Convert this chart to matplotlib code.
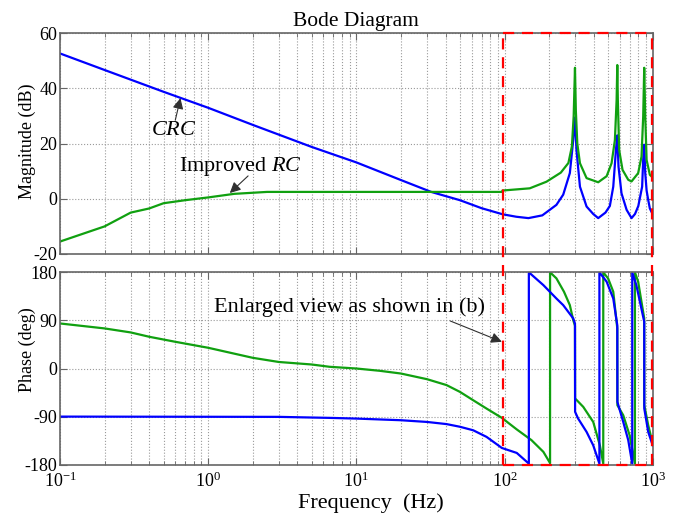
import numpy as np
import matplotlib
matplotlib.use('Agg')
from matplotlib import pyplot as plt
from matplotlib.lines import Line2D
from matplotlib.ticker import LogLocator

plt.rcParams['font.family'] = ['Liberation Serif', 'DejaVu Serif']
plt.rcParams['mathtext.fontset'] = 'custom'
plt.rcParams['mathtext.rm'] = 'Liberation Serif'
plt.rcParams['mathtext.it'] = 'Liberation Serif:italic'
plt.rcParams['axes.unicode_minus'] = False

# magnitude, CRC (blue)
crc_mag_f = [0.1, 0.2, 0.5, 1, 2, 5, 10, 20, 32, 50, 70, 97, 120, 145, 180, 224, 249,
             276, 291, 299, 306, 323, 358, 397, 429, 480, 514, 542, 565, 577, 588,
             616, 667, 720, 760, 800, 849, 863, 877, 891, 910, 933, 957, 1000]
crc_mag = [52.7, 46.7, 38.8, 33.0, 26.8, 18.8, 13.2, 6.8, 2.5, -0.5, -3.4, -5.6, -6.5,
           -7.0, -6.0, -2.2, 1.5, 9.3, 21.3, 29.5, 17.7, 4.4, -2.8, -5.5, -7.0, -5.0,
           -2.6, 4.4, 17.7, 23.0, 11.7, 2.0, -4.0, -7.0, -5.5, -2.6, 4.4, 14.1, 19.6,
           9.3, 3.0, -0.4, -3.5, -5.6]

# magnitude, improved RC (green)
irc_mag_f = [0.1, 0.2, 0.3, 0.4, 0.5, 0.7, 1, 1.5, 2.5, 96, 97, 148, 192, 240, 270,
             285, 293, 299, 303, 310, 323, 358, 429, 489, 528, 556, 571, 577, 582,
             594, 626, 684, 720, 798, 841, 863, 877, 891, 910, 957, 1000]
irc_mag = [-15.5, -10.0, -5.0, -3.5, -1.6, -0.5, 0.5, 1.8, 2.5, 2.5, 3.0, 3.8, 6.2,
           9.5, 13.0, 19.0, 30.0, 47.5, 32.0, 20.0, 12.9, 7.5, 6.0, 8.2, 12.9, 21.3,
           35.8, 48.5, 35.8, 17.7, 10.5, 6.9, 6.3, 9.3, 15.3, 29.8, 47.5, 29.8, 14.1,
           8.7, 7.7]

# phase, CRC (blue)
crc_ph_f = [0.1, 3, 6.6, 10, 20, 30, 40.6, 50, 61.5, 75.7, 96, 121, 146, 146, 183, 224,
            249, 291, 299, 299.5, 314, 358, 397, 437, 437, 489, 542, 577, 578, 633,
            684, 728, 728, 776, 877, 878, 933, 1000]
crc_ph = [-90, -90.5, -92.4, -93.7, -96.8, -100, -104, -109, -115.6, -128, -148.7, -158,
          -178, 180, 156, 131, 118.6, 93.7, 84, -81, -93.7, -118.6, -143.7, -178, 180,
          162.5, 131, 81, -62.5, -100, -134, -178, 180, 156, 87.5, -75, -118.6, -143.7]

# phase, improved RC (green)
irc_ph_f = [0.1, 0.2, 0.3, 0.4, 0.6, 1, 2, 3, 5, 6.6, 10, 14.4, 20, 30, 40.6, 50, 61.5,
            75.7, 96, 121, 152, 183, 203, 203, 224, 252, 276, 291, 299, 299.5, 340,
            397, 440, 464, 464, 500, 542, 577, 578, 633, 699, 759, 759, 798, 877, 878,
            933, 1000]
irc_ph = [84.3, 75, 67.5, 59.4, 50, 38.8, 20, 12.2, 7.5, 3.2, 0, -4.3, -9.4, -20, -31,
          -43.7, -59.4, -75, -92.4, -114, -134, -156, -177, 180, 168.7, 143.7, 118.6,
          90.5, 80, -56, -71.8, -100, -143.7, -178, 180, 168.7, 143.7, 75, -68.7, -87.5,
          -125, -178, 180, 162.5, 93.7, -68.7, -106, -140]

blue = '#0000ff'
green = '#10a010'
grid_kw = dict(color='#9a9a9a', linestyle=':', linewidth=0.8)

fig = plt.figure(figsize=(6.84, 5.18), dpi=100)
ax1 = fig.add_axes([0.0877, 0.5097, 0.8665, 0.4260])
ax2 = fig.add_axes([0.0877, 0.1029, 0.8665, 0.3714])

ax1.semilogx(crc_mag_f, crc_mag, color=blue, lw=1.6)
ax1.semilogx(irc_mag_f, irc_mag, color=green, lw=1.6)
ax2.semilogx(irc_ph_f, irc_ph, color=green, lw=1.6)
ax2.semilogx(crc_ph_f, crc_ph, color=blue, lw=1.6)

ax1.set_ylim(-20, 60)
ax1.set_yticks([-20, 0, 20, 40, 60])
ax2.set_ylim(-180, 180)
ax2.set_yticks([-180, -90, 0, 90, 180])

for ax in (ax1, ax2):
    ax.set_xlim(0.1, 1000)
    ax.xaxis.set_major_locator(LogLocator(base=10, numticks=10))
    ax.xaxis.set_minor_locator(LogLocator(base=10, subs=np.arange(2, 10), numticks=20))
    ax.grid(True, which='major', **grid_kw)
    ax.grid(True, which='minor', axis='x', **grid_kw)
    ax.tick_params(which='both', direction='in', top=True, right=True,
                   color='#666666', labelsize=13, pad=2)
    ax.tick_params(which='major', length=5)
    ax.tick_params(which='minor', length=3)
    for s in ax.spines.values():
        s.set_color('#666666')
        s.set_linewidth(1.2)

ax1.tick_params(labelbottom=False)
ax2.tick_params(axis='x', pad=5)
ax1.set_ylabel('Magnitude (dB)', fontsize=13)
ax1.yaxis.set_label_coords(-0.040, 0.512)
ax2.set_ylabel('Phase (deg)', fontsize=13)
ax2.yaxis.set_label_coords(-0.040, 0.597)
ax2.set_xlabel('Frequency  (Hz)', fontsize=16, labelpad=0)
ax2.xaxis.set_label_coords(0.524, -0.15)
ax1.set_title('Bode Diagram', fontsize=15.5, pad=5)

# annotations
arrow_kw = dict(arrowstyle='-|>', color='#303030', lw=0.8, mutation_scale=16,
                shrinkA=0, shrinkB=0)
ax1.text(0.59, 24.6, '$CRC$', fontsize=16, ha='center', va='center')
ax1.annotate('', xy=(0.65, 36.5), xytext=(0.6, 28.5), arrowprops=arrow_kw)
ax1.text(1.64, 11.6, 'Improved $RC$', fontsize=16, ha='center', va='center')
ax1.annotate('', xy=(1.40, 2.1), xytext=(1.86, 8.3), arrowprops=arrow_kw)
ax2.text(9.06, 115.7, 'Enlarged view as shown in (b)', fontsize=16,
         ha='center', va='center')
ax2.annotate('', xy=(96, 50), xytext=(43, 89), arrowprops=arrow_kw)

# red dashed box spanning both axes
inv = fig.transFigure.inverted()
x_left = inv.transform(ax1.transData.transform((97, 0)))[0]
x_right = inv.transform(ax1.transData.transform((1000, 0)))[0] - 0.001
y_top = ax1.get_position().y1
y_bot = ax2.get_position().y0
red_kw = dict(color='#ff0000', lw=1.6, linestyle=(0, (5, 3.5)), transform=fig.transFigure)
for xs, ys in [([x_left, x_left], [y_bot, y_top]),
               ([x_right, x_right], [y_bot, y_top]),
               ([x_left, x_right], [y_top, y_top]),
               ([x_left, x_right], [y_bot, y_bot])]:
    fig.add_artist(Line2D(xs, ys, **red_kw))

fig.savefig('out.png', dpi=100)
